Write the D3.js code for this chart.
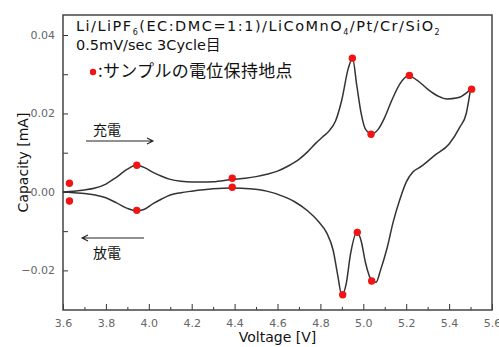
<!DOCTYPE html>
<html>
<head>
<meta charset="utf-8">
<script src="https://cdn.jsdelivr.net/npm/d3@7"></script>
<style>
  body { margin: 0; background: #fff; }
  svg text { font-family: "DejaVu Sans", "Liberation Sans", sans-serif; }
  .jp { font-family: "Noto Sans CJK JP", "DejaVu Sans", sans-serif; }
</style>
</head>
<body>
<div id="chart"></div>
<script>
// charge sweep (3.6 -> 5.5 V)
const chargeV = [3.60, 3.65, 3.70, 3.75, 3.80, 3.85, 3.90, 3.94, 3.98, 4.02, 4.06, 4.10, 4.15, 4.20, 4.25, 4.30,
  4.39, 4.45, 4.50, 4.55, 4.60, 4.65, 4.70, 4.74, 4.78, 4.81, 4.84, 4.87, 4.90, 4.93, 4.95, 4.97, 4.99, 5.01,
  5.04, 5.07, 5.10, 5.13, 5.17, 5.21, 5.25, 5.30, 5.35, 5.39, 5.44, 5.48, 5.50];
const chargeI = [0.0000, 0.0002, 0.0005, 0.0010, 0.0020, 0.0038, 0.0058, 0.0068, 0.0062, 0.0050, 0.0040, 0.0032, 0.0027, 0.0025, 0.0025, 0.0026,
  0.0032, 0.0035, 0.0039, 0.0045, 0.0053, 0.0066, 0.0083, 0.0102, 0.0125, 0.0140, 0.0155, 0.0180, 0.0235, 0.0315, 0.0340, 0.0270, 0.0200, 0.0160,
  0.0148, 0.0160, 0.0190, 0.0230, 0.0275, 0.0296, 0.0285, 0.0262, 0.0244, 0.0237, 0.0240, 0.0252, 0.0262];

// discharge sweep (5.5 -> 3.6 V), listed by ascending voltage
const dischargeV = [3.60, 3.65, 3.70, 3.75, 3.80, 3.85, 3.90, 3.94, 3.98, 4.02, 4.06, 4.10, 4.15, 4.20, 4.30, 4.39,
  4.47, 4.55, 4.62, 4.68, 4.74, 4.79, 4.83, 4.86, 4.88, 4.90, 4.92, 4.94, 4.97, 4.99, 5.01, 5.04, 5.06, 5.08,
  5.11, 5.14, 5.17, 5.20, 5.23, 5.27, 5.33, 5.40, 5.45, 5.48, 5.50];
const dischargeI = [0.0000, -0.0002, -0.0004, -0.0008, -0.0015, -0.0028, -0.0042, -0.0048, -0.0044, -0.0030, -0.0018, -0.0008, -0.0002, 0.0002, 0.0008, 0.0010,
  0.0008, 0.0002, -0.0010, -0.0025, -0.0048, -0.0075, -0.0105, -0.0150, -0.0210, -0.0263, -0.0235, -0.0160, -0.0103, -0.0125, -0.0180, -0.0226, -0.0230, -0.0200,
  -0.0145, -0.0075, -0.0020, 0.0025, 0.0050, 0.0065, 0.0092, 0.0122, 0.0165, 0.0200, 0.0262];

// potential-hold points (red)
const holdV = [3.63, 3.63, 3.944, 3.944, 4.389, 4.389, 4.949, 5.036, 5.215, 5.505, 4.904, 4.972, 5.039];
const holdI = [0.0022, -0.0023, 0.0068, -0.0047, 0.0035, 0.0012, 0.0341, 0.0147, 0.0297, 0.0262, -0.0262, -0.0103, -0.0227];

const xMajor = [3.6, 3.8, 4.0, 4.2, 4.4, 4.6, 4.8, 5.0, 5.2, 5.4, 5.6];
const yMajor = [-0.02, 0.00, 0.02, 0.04];

const W = 499, H = 347;
const margin = { top: 15, right: 7, bottom: 37, left: 63 };
const w = W - margin.left - margin.right;
const h = H - margin.top - margin.bottom;

const svg = d3.select("#chart").append("svg").attr("width", W).attr("height", H);
const g = svg.append("g").attr("transform", `translate(${margin.left},${margin.top})`);

const x = d3.scaleLinear().domain([3.6, 5.6]).range([0, w]);
const y = d3.scaleLinear().domain([-0.0301, 0.0451]).range([h, 0]);

// axes (ticks point inward)
const xMinor = d3.range(3.7, 5.6, 0.2);
g.append("g").attr("transform", `translate(0,${h})`)
  .call(d3.axisBottom(x).tickValues(xMinor).tickSize(-3).tickFormat(""))
  .call(a => a.select(".domain").remove());
g.append("g").attr("transform", `translate(0,${h})`)
  .call(d3.axisBottom(x).tickValues(xMajor).tickSize(-6).tickPadding(9).tickFormat(d3.format(".1f")))
  .call(a => a.select(".domain").remove())
  .call(a => a.selectAll("text").attr("fill", "#666").style("font-size", "11px"));

g.append("g")
  .call(d3.axisLeft(y).tickValues([-0.01, 0.01, 0.03]).tickSize(-5).tickFormat(""))
  .call(a => a.select(".domain").remove());
g.append("g")
  .call(d3.axisLeft(y).tickValues(yMajor).tickSize(-5).tickPadding(8)
    .tickFormat(d => d < 0 ? "\u2212" + d3.format(".2f")(-d) : d3.format(".2f")(d)))
  .call(a => a.select(".domain").remove())
  .call(a => a.selectAll("text").attr("fill", "#666").style("font-size", "11px"));

g.selectAll(".tick line").attr("stroke", "#333");

// frame
g.append("rect").attr("width", w).attr("height", h)
  .attr("fill", "none").attr("stroke", "#444").attr("stroke-width", 1.5);

// curves
const line = d3.line().x(d => x(d[0])).y(d => y(d[1])).curve(d3.curveMonotoneX);
g.append("path").datum(d3.zip(chargeV, chargeI))
  .attr("d", line).attr("fill", "none").attr("stroke", "#333").attr("stroke-width", 1.5);
g.append("path").datum(d3.zip(dischargeV, dischargeI))
  .attr("d", line).attr("fill", "none").attr("stroke", "#333").attr("stroke-width", 1.5);

g.selectAll("circle.hold").data(d3.zip(holdV, holdI)).join("circle")
  .attr("class", "hold")
  .attr("cx", d => x(d[0])).attr("cy", d => y(d[1])).attr("r", 3.7)
  .attr("fill", "#f01414");

// title block
const t1 = svg.append("text").attr("x", 76).attr("y", 31).style("font-size", "14.5px")
  .style("letter-spacing", "1.5px").attr("fill", "#111");
[["Li/LiPF", 0], ["6", 1], ["(EC:DMC=1:1)/LiCoMnO", 2], ["4", 1], ["/Pt/Cr/SiO", 2], ["2", 1]].forEach(([s, k]) => {
  const ts = t1.append("tspan").text(s);
  if (k === 1) ts.attr("dy", 4).style("font-size", "8px");
  if (k === 2) ts.attr("dy", -4);
});
svg.append("text").attr("x", 76).attr("y", 50).style("font-size", "14.5px").attr("fill", "#111")
  .text("0.5mV/sec 3Cycle").append("tspan").attr("class", "jp").text("目");
svg.append("circle").attr("cx", 93).attr("cy", 72).attr("r", 3.2).attr("fill", "#f01414");
svg.append("text").attr("class", "jp").attr("x", 98).attr("y", 77).style("font-size", "17px")
  .style("letter-spacing", "0.3px").attr("fill", "#111")
  .text(":サンプルの電位保持地点");

// sweep direction arrows
svg.append("text").attr("class", "jp").attr("x", 93).attr("y", 135).style("font-size", "14px").attr("fill", "#111").text("充電");
svg.append("text").attr("class", "jp").attr("x", 93).attr("y", 258).style("font-size", "14px").attr("fill", "#111").text("放電");
const arrow = (x1, x2, yy) => {
  const dir = Math.sign(x2 - x1);
  svg.append("path")
    .attr("d", `M${x1},${yy}H${x2}M${x2 - dir * 6},${yy - 3}L${x2},${yy}L${x2 - dir * 6},${yy + 3}`)
    .attr("fill", "none").attr("stroke", "#222").attr("stroke-width", 1.1);
};
arrow(86, 153, 141);
arrow(144, 82, 238);

// axis labels
svg.append("text").attr("x", margin.left + w / 2).attr("y", 342).attr("text-anchor", "middle")
  .style("font-size", "14px").attr("fill", "#111").text("Voltage [V]");
svg.append("text").attr("transform", `translate(28,${margin.top + h / 2}) rotate(-90)`).attr("text-anchor", "middle")
  .style("font-size", "14px").attr("fill", "#111").text("Capacity [mA]");
</script>
</body>
</html>
